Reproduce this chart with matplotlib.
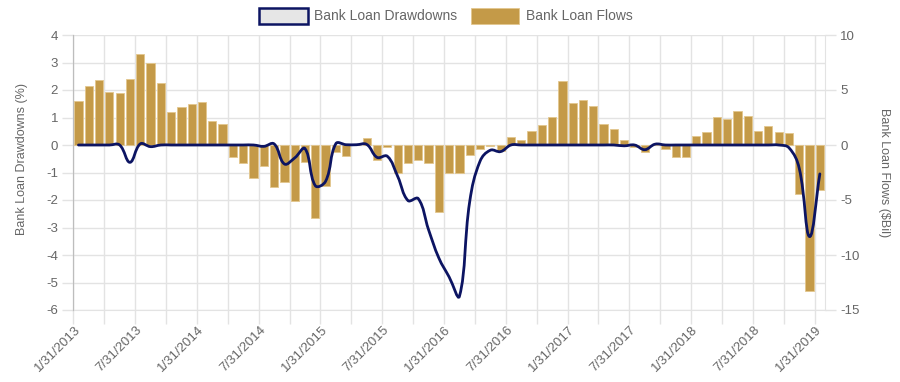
import numpy as np
import matplotlib
matplotlib.use("Agg")
import matplotlib.pyplot as plt
import matplotlib.transforms as mtransforms
from matplotlib.path import Path
from matplotlib.patches import PathPatch, Rectangle
from matplotlib.ticker import MultipleLocator, NullFormatter

plt.rcParams['font.family'] = ['Liberation Sans', 'DejaVu Sans']
plt.rcParams['axes.unicode_minus'] = False

# ---------------- data ----------------
# monthly observations, 1/31/2013 .. 1/31/2019 (73 months)
tick_labels = ["1/31/2013", "7/31/2013", "1/31/2014", "7/31/2014", "1/31/2015",
               "7/31/2015", "1/31/2016", "7/31/2016", "1/31/2017", "7/31/2017",
               "1/31/2018", "7/31/2018", "1/31/2019"]

flows = [4.0, 5.33, 5.88, 4.82, 4.7, 6.0, 8.3, 7.48, 5.67, 3.03, 3.42, 3.76,
         3.88, 2.15, 1.9, -1.12, -1.67, -3.03, -1.88, -3.79, -3.36, -5.06, -1.58, -6.67,
         -3.7, -0.6, -1.03, 0.0, 0.67, -1.36, -0.18, -2.5, -1.66, -1.33, -1.68, -6.12,
         -2.54, -2.54, -0.94, -0.4, -0.11, -0.58, 0.73, 0.42, 1.3, 1.82, 2.55, 5.85,
         3.85, 4.06, 3.52, 1.91, 1.48, 0.45, -0.18, -0.6, 0.0, -0.39, -1.12, -1.12,
         0.85, 1.18, 2.55, 2.36, 3.12, 2.67, 1.3, 1.7, 1.18, 1.06, -4.43, -13.25,
         -4.1]

drawdowns = [0, 0, 0, 0, 0, -0.63, 0.04, -0.06, 0, 0, 0, 0,
             0, 0, 0, 0, 0, 0, -0.05, 0.04, -0.69, -0.47, -0.13, -1.48,
             -1.32, 0.05, 0.01, 0.01, 0.02, -0.45, -0.41, -1.14, -2.02, -1.95, -3.08, -4.11,
             -4.8, -5.5, -2.05, -0.59, -0.19, -0.24, 0, 0, 0, 0, 0, 0,
             0, 0, 0, 0, 0, -0.03, 0, -0.17, 0.03, 0, 0, 0,
             0, 0, 0, 0, 0, 0, 0, 0, 0, -0.1, -0.85, -3.33,
             -1.05]

BAR_COLOR = "#C49A48"
BAR_EDGE = "#E3C78E"
LINE_COLOR = "#0C1462"
GRID = "#E3E3E3"
TXT = "#666666"

W, H = 900, 382
fig = plt.figure(figsize=(W / 100, H / 100), dpi=100)
fig.patch.set_facecolor("white")
L, R, T, B = 73.3, 825.0, 35.0, 310.0
ax = fig.add_axes([L / W, 1 - B / H, (R - L) / W, (B - T) / H])
ax2 = ax.twinx()

n = len(flows)
x = np.arange(n)

# ---- bars on right scale (base axes) ----
ax.bar(x, flows, width=0.8, color=BAR_COLOR, edgecolor=BAR_EDGE, linewidth=0.6, zorder=3)
ax.set_xlim(-0.5, n - 0.5)
ax.set_ylim(-15, 10)
ax.yaxis.tick_right()
ax.yaxis.set_major_locator(MultipleLocator(5))
ax.yaxis.set_minor_locator(MultipleLocator(2.5))
ax.yaxis.set_minor_formatter(NullFormatter())
ax.tick_params(axis='y', which='major', length=8, width=1, color=GRID, pad=3,
               labelsize=9.5, labelcolor=TXT, right=True, left=False)
ax.tick_params(axis='y', which='minor', length=0)
ax.grid(True, axis='y', which='both', color=GRID, linewidth=1, zorder=0)

# x ticks every 3 months at category edges, labels every 6 months
xt = np.arange(0, n, 3) - 0.5
ax.set_xticks(xt)
lab = []
j = 0
for i, v in enumerate(xt):
    if i % 2 == 0:
        lab.append(tick_labels[j]); j += 1
    else:
        lab.append("")
ax.set_xticklabels(lab, rotation=45, ha='right', va='center', rotation_mode='anchor')
ax.tick_params(axis='x', length=10, width=1, color=GRID, pad=3, labelsize=9.5, labelcolor=TXT)
shift = mtransforms.ScaledTranslation(5 / 100, 0, fig.dpi_scale_trans)
for lbl in ax.get_xticklabels():
    lbl.set_transform(lbl.get_transform() + shift)
ax.grid(True, axis='x', color=GRID, linewidth=1, zorder=0)
ax.set_axisbelow(True)

ax.spines['top'].set_visible(False)
ax.spines['bottom'].set_color(GRID)
ax.spines['right'].set_color(GRID)
ax.spines['left'].set_color("#BDBDBD")

# ---- line on left scale (twin on top) ----
ax2.set_ylim(-6, 4)
ax2.yaxis.tick_left()
ax2.set_yticks(np.arange(-6, 5, 1))
ax2.tick_params(axis='y', length=8, width=1, color=GRID, pad=3, labelsize=9.5,
                labelcolor=TXT, left=True, right=False)
for s in ['top', 'right', 'bottom']:
    ax2.spines[s].set_visible(False)
ax2.spines['left'].set_color("#BDBDBD")

# Chart.js-like bezier spline (tension 0.4) computed in pixel space
sx = (R - L) / n
sy = (B - T) / 10.0
px = x * sx
py = np.array(drawdowns, dtype=float) * sy
t = 0.4
cp_prev = []
cp_next = []
for i in range(n):
    p0 = (px[max(i - 1, 0)], py[max(i - 1, 0)])
    p1 = (px[i], py[i])
    p2 = (px[min(i + 1, n - 1)], py[min(i + 1, n - 1)])
    d01 = np.hypot(p1[0] - p0[0], p1[1] - p0[1])
    d12 = np.hypot(p2[0] - p1[0], p2[1] - p1[1])
    tot = d01 + d12
    s01 = d01 / tot if tot > 0 else 0
    s12 = d12 / tot if tot > 0 else 0
    fa, fb = t * s01, t * s12
    cp_prev.append((p1[0] - fa * (p2[0] - p0[0]), p1[1] - fa * (p2[1] - p0[1])))
    cp_next.append((p1[0] + fb * (p2[0] - p0[0]), p1[1] + fb * (p2[1] - p0[1])))
verts = [(px[0], py[0])]
codes = [Path.MOVETO]
for i in range(n - 1):
    verts += [cp_next[i], cp_prev[i + 1], (px[i + 1], py[i + 1])]
    codes += [Path.CURVE4] * 3
verts = np.array(verts)
verts[:, 0] /= sx
verts[:, 1] /= sy
ax2.add_patch(PathPatch(Path(verts, codes), facecolor='none', edgecolor=LINE_COLOR,
                        linewidth=2.0, capstyle='round', joinstyle='round', zorder=5))
ax2.set_xlim(-0.5, n - 0.5)

# ---- axis titles ----
fig.text(22.5 / W, 1 - 159 / H, "Bank Loan Drawdowns (%)", rotation=90, ha='center',
         va='center', fontsize=9, color=TXT)
fig.text(884 / W, 1 - 172.5 / H, "Bank Loan Flows (\\$Bil)", rotation=-90, ha='center',
         va='center', fontsize=9, color=TXT)

# ---- legend ----
def fx(v):
    return v / W

def fy(v):
    return 1 - v / H

fig.patches.append(Rectangle((fx(259), fy(24)), fx(308) - fx(259), fy(8) - fy(24),
                             transform=fig.transFigure, facecolor="#E6E6E6",
                             edgecolor=LINE_COLOR, linewidth=1.8, figure=fig))
fig.text(fx(314), fy(16), "Bank Loan Drawdowns", ha='left', va='center', fontsize=10,
         color=TXT)
fig.patches.append(Rectangle((fx(471), fy(24)), fx(519) - fx(471), fy(8) - fy(24),
                             transform=fig.transFigure, facecolor=BAR_COLOR,
                             edgecolor=BAR_EDGE, linewidth=0.6, figure=fig))
fig.text(fx(526), fy(16), "Bank Loan Flows", ha='left', va='center', fontsize=10,
         color=TXT)

fig.savefig("out.png", dpi=100, facecolor="white")
